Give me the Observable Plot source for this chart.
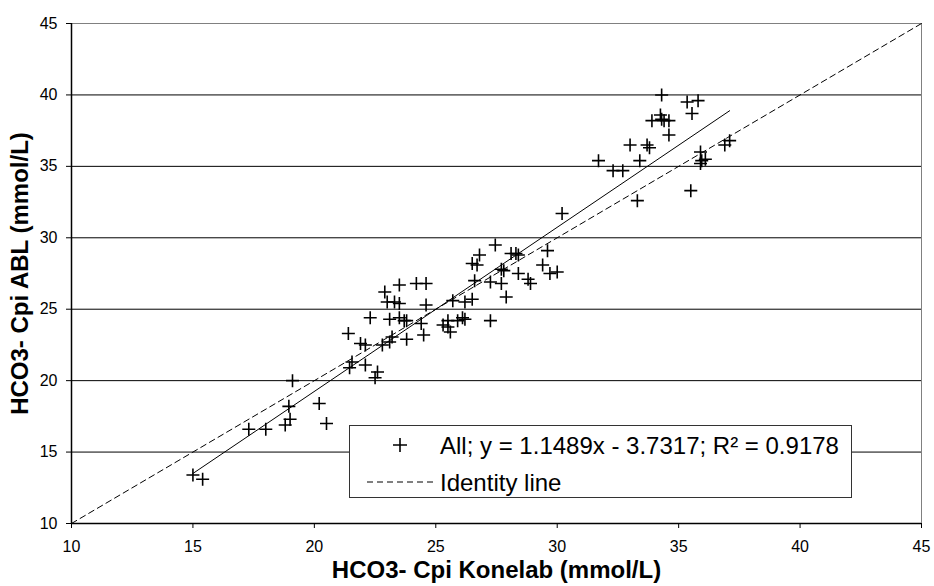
<!DOCTYPE html>
<html>
<head>
<meta charset="utf-8">
<script src="https://cdn.jsdelivr.net/npm/d3@7"></script>
<script src="https://cdn.jsdelivr.net/npm/@observablehq/plot@0.6"></script>
<style>
  body { margin: 0; background: #fff; font-family: "Liberation Sans", Arial, sans-serif; }
  #wrap { position: relative; width: 934px; height: 586px; }
  #legend { position: absolute; left: 349px; top: 425px; }
</style>
</head>
<body>
<div id="wrap">
  <div id="chart"></div>
  <svg id="legend" width="504" height="74"></svg>
</div>
<script>
// HCO3- Cpi Konelab (x) vs HCO3- Cpi ABL (y), mmol/L
const konelab = [
  15.0, 15.4, 17.3, 18.0, 18.8, 19.0, 18.95, 19.1, 20.2, 20.5,
  21.45, 21.55, 22.1, 21.4, 21.9, 22.1, 22.6, 22.5, 22.8, 23.1,
  23.2, 23.8, 24.5, 22.3, 23.1, 23.5, 23.7, 23.8, 24.4, 23.0,
  23.3, 23.5, 24.6, 22.9, 23.5, 24.2, 24.6, 25.3, 25.5, 25.5,
  25.9, 26.1, 26.2, 25.6, 25.7, 26.2, 26.5, 27.25, 26.6, 27.25,
  27.7, 26.5, 26.7, 26.8, 27.45, 27.7, 27.8, 27.9, 28.1, 28.3,
  28.4, 28.4, 28.8, 28.9, 29.4, 29.6, 29.7, 30.0, 30.2, 31.7,
  32.3, 32.7, 33.3, 33.4, 33.0, 33.7, 33.8, 33.9, 34.25, 34.4,
  34.6, 34.3, 34.6, 34.3, 35.35, 35.8, 35.55, 35.5, 35.9, 35.95,
  36.1, 35.9, 36.9, 37.1
];
const abl = [
  13.4, 13.1, 16.6, 16.6, 16.9, 17.3, 18.2, 20.0, 18.4, 17.0,
  20.9, 21.3, 21.1, 23.3, 22.6, 22.5, 20.6, 20.2, 22.5, 22.7,
  23.05, 22.9, 23.2, 24.4, 24.3, 24.4, 24.2, 24.2, 24.0, 25.5,
  25.5, 25.4, 25.3, 26.2, 26.7, 26.8, 26.8, 23.9, 24.2, 23.75,
  24.2, 24.4, 24.3, 23.4, 25.6, 25.5, 25.7, 24.2, 27.0, 26.9,
  26.8, 28.2, 28.1, 28.8, 29.5, 27.8, 27.7, 25.85, 28.9, 28.9,
  28.8, 27.5, 27.1, 26.8, 28.1, 29.1, 27.5, 27.6, 31.7, 35.4,
  34.7, 34.7, 32.6, 35.4, 36.5, 36.5, 36.3, 38.2, 38.6, 38.2,
  38.2, 38.3, 37.2, 40.0, 39.5, 39.6, 38.7, 33.3, 36.0, 35.4,
  35.5, 35.2, 36.5, 36.8
];
const axisTicks = [10, 15, 20, 25, 30, 35, 40, 45];
const gridValues = [15, 20, 25, 30, 35, 40];
const identityEnds = [10, 45];
const fitSlope = 1.1489;
const fitIntercept = -3.7317;
const fitLabel = "All; y = 1.1489x - 3.7317; R\u00B2 = 0.9178";
const identityLabel = "Identity line";
const xTitle = "HCO3- Cpi Konelab (mmol/L)";
const yTitle = "HCO3- Cpi ABL (mmol/L)";

const points = konelab.map((x, i) => ({x, y: abl[i]}));
const identity = identityEnds.map(v => ({x: v, y: v}));
const fit = d3.extent(konelab).map(x => ({x, y: fitSlope * x + fitIntercept}));

const plusSymbol = {
  draw(ctx, size) {
    const r = Math.sqrt(size / Math.PI);
    ctx.moveTo(-r, 0); ctx.lineTo(r, 0);
    ctx.moveTo(0, -r); ctx.lineTo(0, r);
  }
};

const chart = Plot.plot({
  width: 934,
  height: 586,
  marginLeft: 71,
  marginRight: 13,
  marginTop: 23,
  marginBottom: 63,
  style: {fontFamily: "'Liberation Sans', Arial, sans-serif", fontSize: "16px", color: "#000", background: "#fff"},
  x: {domain: [10, 45]},
  y: {domain: [10, 45]},
  marks: [
    Plot.ruleY(gridValues, {stroke: "#000", strokeWidth: 1}),
    Plot.ruleY([45], {stroke: "#808080", strokeWidth: 1}),
    Plot.ruleX([45], {stroke: "#808080", strokeWidth: 1}),
    Plot.line(identity, {x: "x", y: "y", stroke: "#000", strokeWidth: 1, strokeDasharray: "6,4"}),
    Plot.line(fit, {x: "x", y: "y", stroke: "#000", strokeWidth: 1}),
    Plot.dot(points, {x: "x", y: "y", symbol: plusSymbol, r: 6.5, stroke: "#000", strokeWidth: 1.6, fill: "none"}),
    Plot.ruleX([10], {stroke: "#000", strokeWidth: 1.5}),
    Plot.ruleY([10], {stroke: "#000", strokeWidth: 1.5}),
    Plot.axisX({ticks: axisTicks, tickSize: 5, tickPadding: 12, label: null, tickFormat: d => d}),
    Plot.axisY({ticks: axisTicks, tickSize: 5, tickPadding: 9, label: null, tickFormat: d => d}),
    Plot.text([xTitle], {frameAnchor: "bottom", dy: 47, lineAnchor: "middle", textAnchor: "middle", fontSize: 24, fontWeight: "bold", fill: "#000"}),
    Plot.text([yTitle], {frameAnchor: "left", dx: -51, rotate: -90, lineAnchor: "middle", textAnchor: "middle", fontSize: 24, fontWeight: "bold", fill: "#000"})
  ]
});
document.getElementById("chart").appendChild(chart);

// legend
const lg = d3.select("#legend");
lg.append("rect").attr("x", 0.5).attr("y", 0.5).attr("width", 502).attr("height", 72)
  .attr("fill", "#fff").attr("stroke", "#333").attr("stroke-width", 1);
const row1 = 20, row2 = 57;
lg.append("path").attr("d", `M44,${row1}H58M51,${row1 - 7}V${row1 + 7}`).attr("stroke", "#000").attr("stroke-width", 1.6);
lg.append("line").attr("x1", 18).attr("x2", 84).attr("y1", row2).attr("y2", row2)
  .attr("stroke", "#000").attr("stroke-width", 1).attr("stroke-dasharray", "6,4");
lg.selectAll("text").data([fitLabel, identityLabel]).join("text")
  .attr("x", 91).attr("y", (d, i) => i === 0 ? row1 : row2)
  .attr("dy", "0.36em")
  .attr("font-size", 24)
  .attr("font-family", "'Liberation Sans', Arial, sans-serif")
  .attr("fill", "#000")
  .text(d => d);
</script>
</body>
</html>
